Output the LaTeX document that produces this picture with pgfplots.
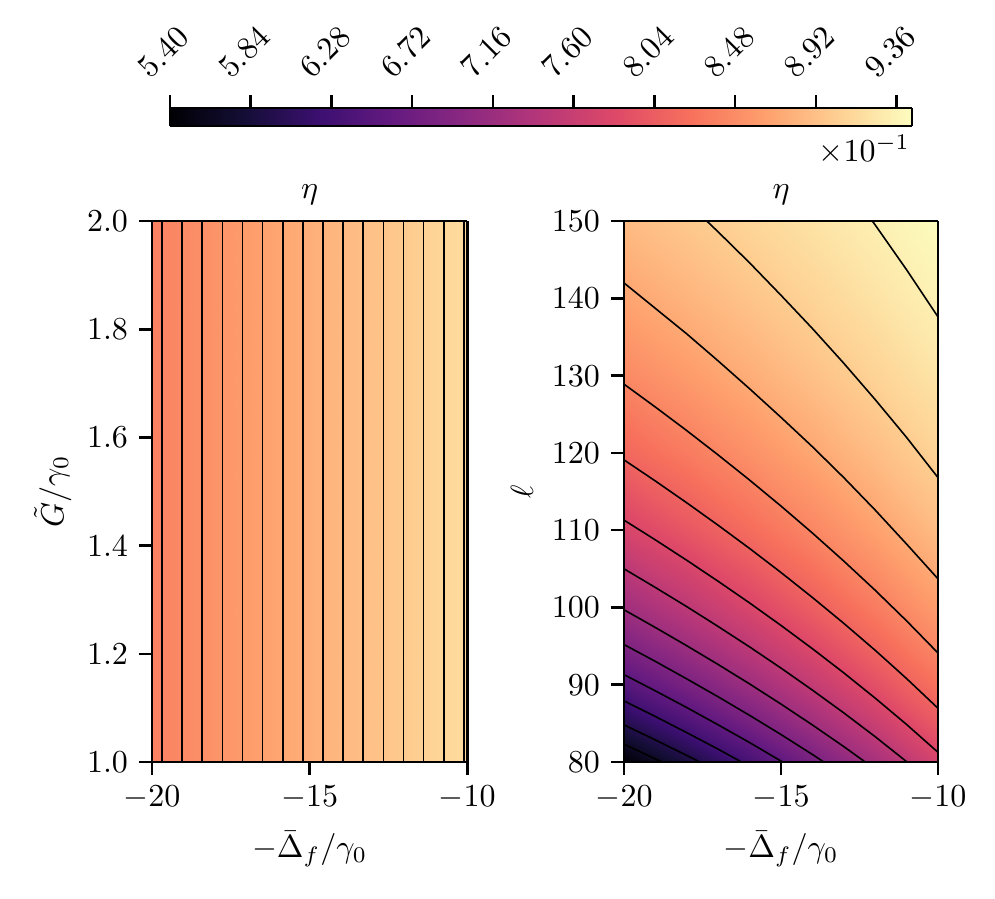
\documentclass[border=0pt]{standalone}
\usepackage{pgfplots}
\pgfplotsset{compat=1.18}

\pgfplotsset{
  colormap={magma}{rgb255=(0,0,4) rgb255=(20,14,54) rgb255=(59,15,112) rgb255=(100,26,128)
    rgb255=(140,41,129) rgb255=(183,55,121) rgb255=(222,73,104) rgb255=(247,112,92)
    rgb255=(254,159,109) rgb255=(254,207,146) rgb255=(252,253,191)},
  axframe/.style={scale only axis, axis line style={line width=0.8pt},
    tick style={black, line width=0.8pt}, major tick length=4pt, tick align=outside},
  panel/.style={axframe, width=98.5pt, height=169pt, view={0}{90},
    xmin=-20, xmax=-10, xtick={-20,-15,-10}, ztick=\empty,
    xtick pos=left, ytick pos=left,
    colormap name=magma, point meta min=0.54, point meta max=0.9444,
    title={$\eta$}, title style={yshift=-4.5pt},
    xlabel={$-\bar{\Delta}_f/\gamma_0$}, axis on top},
  cline/.style={black, line width=0.5pt, mark=none},
}

\begin{document}
\begin{tikzpicture}
\useasboundingbox (0,0) rectangle (310.9pt,280.6pt);

% colour bar
\begin{axis}[axframe, at={(53.1pt,241.25pt)}, anchor=south west,
  width=231.9pt, height=5.6pt, view={0}{90}, clip=false,
  xmin=5.40, xmax=9.444, ymin=0, ymax=1, ytick=\empty, ztick=\empty,
  xtick={5.40,5.84,6.28,6.72,7.16,7.60,8.04,8.48,8.92,9.36},
  xticklabels={5.40,5.84,6.28,6.72,7.16,7.60,8.04,8.48,8.92,9.36},
  xtick pos=right, xticklabel pos=right,
  xticklabel style={xshift=-2pt, yshift=13.5pt, rotate=45, anchor=center},
  colormap name=magma, point meta min=5.40, point meta max=9.444]
\addplot3[surf, shader=interp, mesh/cols=2] table {
x y c
5.40 0 5.40
9.444 0 9.444
5.40 1 5.40
9.444 1 9.444
};
\node[anchor=north east, inner sep=0pt] at (axis description cs:1,0) [xshift=-0.5pt, yshift=-2.8pt] {$\times10^{-1}$};
\end{axis}

% left panel
\begin{axis}[panel, at={(47.5pt,42.5pt)}, anchor=south west,
  ymin=1, ymax=2, ytick={1,1.2,1.4,1.6,1.8,2},
  yticklabels={1.0,1.2,1.4,1.6,1.8,2.0},
  ylabel={$\tilde{G}/\gamma_0$}, ylabel shift=-2pt]
\addplot3[surf, shader=interp, mesh/cols=2] table {
x y eta
-20 1 0.8375
-10 1 0.9159
-20 2 0.8375
-10 2 0.9159
};
\pgfplotsinvokeforeach{-19.681,-19.043,-18.405,-17.767,-17.128,-16.490,-15.852,-15.214,
  -14.576,-13.938,-13.300,-12.662,-12.023,-11.385,-10.747,-10.109}{
  \addplot[cline] coordinates {(#1,1) (#1,2)};
}
\end{axis}

% right panel
\begin{axis}[panel, at={(195pt,42.5pt)}, anchor=south west, width=98.1pt,
  ymin=80, ymax=150, ytick={80,90,100,110,120,130,140,150},
  ylabel={$\ell$}, ylabel shift=-1pt]
\addplot3[surf, shader=interp, mesh/cols=6] table {
x y eta
-20 80 0.5400
-18 80 0.5865
-16 80 0.6330
-14 80 0.6794
-12 80 0.7257
-10 80 0.7720
-20 85 0.5982
-18 85 0.6388
-16 85 0.6794
-14 85 0.7199
-12 85 0.7604
-10 85 0.8008
-20 90 0.6463
-18 90 0.6820
-16 90 0.7178
-14 90 0.7535
-12 90 0.7891
-10 90 0.8246
-20 95 0.6864
-18 95 0.7181
-16 95 0.7499
-14 95 0.7815
-12 95 0.8131
-10 95 0.8446
-20 100 0.7203
-18 100 0.7486
-16 100 0.7769
-14 100 0.8051
-12 100 0.8333
-10 100 0.8614
-20 110 0.7739
-18 110 0.7968
-16 110 0.8196
-14 110 0.8424
-12 110 0.8652
-10 110 0.8879
-20 120 0.8138
-18 120 0.8326
-16 120 0.8514
-14 120 0.8702
-12 120 0.8890
-10 120 0.9077
-20 130 0.8442
-18 130 0.8600
-16 130 0.8757
-14 130 0.8914
-12 130 0.9071
-10 130 0.9228
-20 140 0.8679
-18 140 0.8813
-16 140 0.8946
-14 140 0.9080
-12 140 0.9213
-10 140 0.9345
-20 150 0.8868
-18 150 0.8982
-16 150 0.9097
-14 150 0.9211
-12 150 0.9325
-10 150 0.9439
};
% contour lines, eta = 0.93, 0.90, ..., 0.57
\addplot[cline] coordinates {(-12.09,150) (-12,149.5) (-11,143.7) (-10,137.6)};
\addplot[cline] coordinates {(-17.36,150) (-17,148.6) (-16,144.6) (-15,140.4) (-14,136.1) (-13,131.6) (-12,126.9) (-11,122.0) (-10,116.8)};
\addplot[cline] coordinates {(-20,142.0) (-19,138.7) (-18,135.4) (-17,131.9) (-16,128.3) (-15,124.6) (-14,120.8) (-13,116.8) (-12,112.6) (-11,108.2) (-10,103.7)};
\addplot[cline] coordinates {(-20,128.9) (-19,125.93) (-18,122.88) (-17,119.73) (-16,116.48) (-15,113.12) (-14,109.63) (-13,106.00) (-12,102.22) (-11,98.26) (-10,94.10)};
\addplot[cline] coordinates {(-20,119.1) (-19,116.36) (-18,113.54) (-17,110.63) (-16,107.63) (-15,104.52) (-14,101.29) (-13,97.94) (-12,94.45) (-11,90.79) (-10,86.95)};
\addplot[cline] coordinates {(-20,111.3) (-19,108.74) (-18,106.10) (-17,103.38) (-16,100.58) (-15,97.67) (-14,94.66) (-13,91.53) (-12,88.26) (-11,84.85) (-10,81.25)};
\addplot[cline] coordinates {(-20,105.0) (-19,102.58) (-18,100.10) (-17,97.53) (-16,94.89) (-15,92.15) (-14,89.30) (-13,86.35) (-12,83.27) (-11,80.04) (-10.99,80)};
\addplot[cline] coordinates {(-20,99.7) (-19,97.40) (-18,95.04) (-17,92.61) (-16,90.10) (-15,87.49) (-14,84.79) (-13,81.99) (-12.32,80)};
\addplot[cline] coordinates {(-20,95.2) (-19,93.01) (-18,90.75) (-17,88.43) (-16,86.03) (-15,83.55) (-14,80.97) (-13.64,80)};
\addplot[cline] coordinates {(-20,91.3) (-19,89.20) (-18,87.04) (-17,84.80) (-16,82.51) (-15,80.12) (-14.95,80)};
\addplot[cline] coordinates {(-20,87.9) (-19,85.88) (-18,83.79) (-17,81.65) (-16.26,80)};
\addplot[cline] coordinates {(-20,84.8) (-19,82.85) (-18,80.84) (-17.59,80)};
\addplot[cline] coordinates {(-20,82.3) (-19,80.40) (-18.79,80)};
\end{axis}
\end{tikzpicture}
\end{document}
